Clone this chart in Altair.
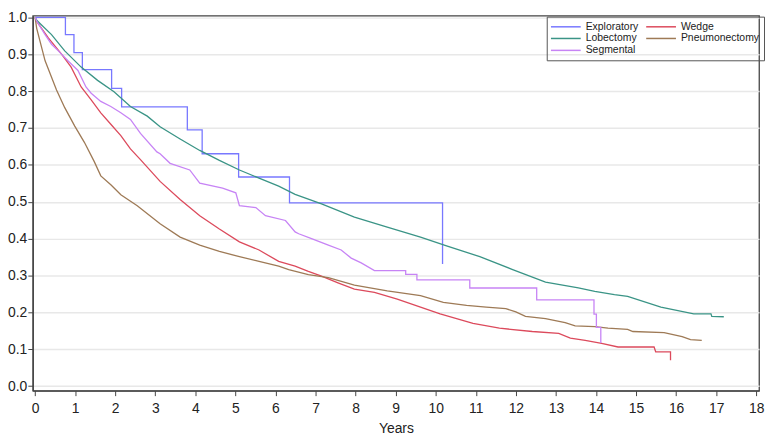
import altair as alt
import pandas as pd

# legend is filled column by column, so this order gives rows:
# Exploratory | Wedge / Lobectomy | Pneumonectomy / Segmental
groups = ["Exploratory", "Lobectomy", "Segmental", "Wedge", "Pneumonectomy"]
colors = ["#7878ff", "#3a9486", "#c784f5", "#dc4a5c", "#9e7a56"]

x_ticks = list(range(0, 19))
y_ticks = [0.0, 0.1, 0.2, 0.3, 0.4, 0.5, 0.6, 0.7, 0.8, 0.9, 1.0]

# Exploratory: Kaplan-Meier step estimates (event time, survival after event)
explor_t = [0.0, 0.757, 0.97, 1.18, 1.91, 2.16, 3.80, 4.17, 5.08, 6.35, 10.17]
explor_s = [1.0, 0.953, 0.904, 0.858, 0.807, 0.757, 0.695, 0.630, 0.567, 0.497, 0.331]

wedge_t = [0.0, 0.04, 0.33, 0.66, 0.90, 1.15, 1.40, 1.64, 1.89, 2.14, 2.38, 2.63, 3.12, 3.62,
           4.11, 4.60, 5.10, 5.59, 6.08, 6.49, 6.82, 7.15, 7.56, 7.97, 8.47, 9.04, 9.62, 10.11,
           10.52, 10.93, 11.59, 12.41, 13.07, 13.36, 13.73, 14.14, 14.55, 15.45, 15.49, 15.86, 15.86]
wedge_s = [1.0, 0.989, 0.944, 0.900, 0.865, 0.811, 0.776, 0.741, 0.710, 0.679, 0.643, 0.614, 0.555, 0.506,
           0.462, 0.426, 0.391, 0.369, 0.338, 0.325, 0.311, 0.298, 0.280, 0.263, 0.254, 0.236, 0.214, 0.196,
           0.183, 0.170, 0.157, 0.148, 0.143, 0.130, 0.124, 0.116, 0.106, 0.106, 0.093, 0.093, 0.070]

lobe_t = [0.0, 0.04, 0.41, 0.74, 1.15, 1.56, 1.97, 2.38, 2.80, 3.12, 3.62, 4.11, 4.60, 5.10, 5.59,
          6.08, 6.49, 7.15, 7.97, 8.79, 9.62, 10.27, 11.10, 11.92, 12.74, 13.56, 13.97, 14.46, 14.79,
          15.62, 16.44, 16.87, 16.89, 17.19]
lobe_s = [1.0, 0.992, 0.953, 0.909, 0.865, 0.829, 0.798, 0.758, 0.732, 0.703, 0.670, 0.639, 0.612, 0.586, 0.564,
          0.542, 0.520, 0.494, 0.458, 0.431, 0.404, 0.380, 0.351, 0.316, 0.282, 0.266, 0.257, 0.248, 0.243,
          0.214, 0.196, 0.196, 0.189, 0.188]

pneu_t = [0.0, 0.04, 0.25, 0.535, 0.74, 0.99, 1.23, 1.48, 1.64, 1.89, 2.14, 2.55, 3.12, 3.62, 4.11,
          4.60, 5.10, 5.59, 6.08, 6.33, 6.82, 7.32, 7.97, 8.79, 9.62, 10.19, 10.77, 11.26, 11.75, 12.0,
          12.24, 12.74, 13.23, 13.48, 13.97, 14.30, 14.79, 14.92, 15.70, 16.15, 16.36, 16.64]
pneu_s = [1.0, 0.970, 0.882, 0.803, 0.755, 0.705, 0.661, 0.608, 0.570, 0.546, 0.519, 0.489, 0.440, 0.404, 0.382,
          0.365, 0.351, 0.338, 0.325, 0.316, 0.302, 0.294, 0.274, 0.258, 0.245, 0.227, 0.219, 0.214, 0.210, 0.201,
          0.189, 0.183, 0.172, 0.163, 0.161, 0.157, 0.154, 0.148, 0.145, 0.134, 0.126, 0.124]

seg_t = [0.0, 0.04, 0.25, 0.41, 0.58, 0.82, 1.07, 1.27, 1.40, 1.64, 1.89, 2.14, 2.38, 2.63, 3.04, 3.12,
         3.37, 3.86, 4.11, 4.68, 5.01, 5.10, 5.51, 5.75, 6.25, 6.49, 6.58, 6.90, 7.32, 7.64, 7.89, 8.14,
         8.47, 9.25, 9.25, 9.53, 9.53, 10.85, 10.85, 12.52, 12.52, 13.95, 13.95, 14.01, 14.01, 14.12, 14.12]
seg_s = [1.0, 0.990, 0.953, 0.927, 0.909, 0.882, 0.856, 0.811, 0.794, 0.772, 0.758, 0.741, 0.723, 0.685, 0.635, 0.630,
         0.604, 0.586, 0.550, 0.537, 0.524, 0.489, 0.484, 0.462, 0.449, 0.418, 0.413, 0.400, 0.382, 0.369, 0.347, 0.334,
         0.313, 0.313, 0.303, 0.303, 0.288, 0.288, 0.266, 0.266, 0.234, 0.234, 0.195, 0.195, 0.159, 0.159, 0.117]

rows = []
idx = 0
# expand the step function into stair points
prev = None
for t, s in zip(explor_t, explor_s):
    if prev is not None:
        rows.append({"group": "Exploratory", "t": t, "s": prev, "idx": idx}); idx += 1
    rows.append({"group": "Exploratory", "t": t, "s": s, "idx": idx}); idx += 1
    prev = s
for name, ts, ss in [("Wedge", wedge_t, wedge_s), ("Lobectomy", lobe_t, lobe_s),
                     ("Pneumonectomy", pneu_t, pneu_s), ("Segmental", seg_t, seg_s)]:
    for t, s in zip(ts, ss):
        rows.append({"group": name, "t": t, "s": s, "idx": idx}); idx += 1
df = pd.DataFrame(rows)

FONT = "Liberation Sans"

chart = alt.Chart(df).mark_line(strokeWidth=1.3).encode(
    x=alt.X("t:Q",
            scale=alt.Scale(domain=[-0.057, 18.07], nice=False, zero=False),
            axis=alt.Axis(values=x_ticks, title="Years", grid=False, format="d",
                          labelFontSize=14, tickSize=5, labelPadding=6,
                          titleFontSize=14, titleFontWeight="normal", titlePadding=6)),
    y=alt.Y("s:Q",
            scale=alt.Scale(domain=[-0.0125, 1.0045], nice=False, zero=False),
            axis=alt.Axis(values=y_ticks, format=".1f", title=None, grid=True,
                          labelFontSize=14, tickSize=5, labelPadding=1,
                          gridColor="#e8e8e8", gridWidth=1.5)),
    color=alt.Color("group:N",
                    scale=alt.Scale(domain=groups, range=colors),
                    legend=alt.Legend(title=None, orient="none", legendX=518, legendY=1,
                                      columns=2, symbolType="M-3,0H3", symbolSize=100,
                                      symbolStrokeWidth=1.5, symbolOffset=9.25, labelOffset=14,
                                      labelFont=FONT, labelFontSize=10.5, labelColor="#222",
                                      rowPadding=0, columnPadding=4, padding=4,
                                      strokeColor="#555")),
    order=alt.Order("idx:Q"),
).properties(
    width=732, height=378, autosize="none",
    padding={"left": 25, "top": 6, "right": 7, "bottom": 48},
).configure(font=FONT).configure_view(
    stroke="#444", strokeWidth=1.3
).configure_axis(
    domainColor="#444", domainWidth=1.3, tickColor="#444", labelColor="#222",
    titleColor="#222", labelFont=FONT, titleFont=FONT
)

chart.save("out.html", embed_options={"renderer": "svg", "actions": False})
